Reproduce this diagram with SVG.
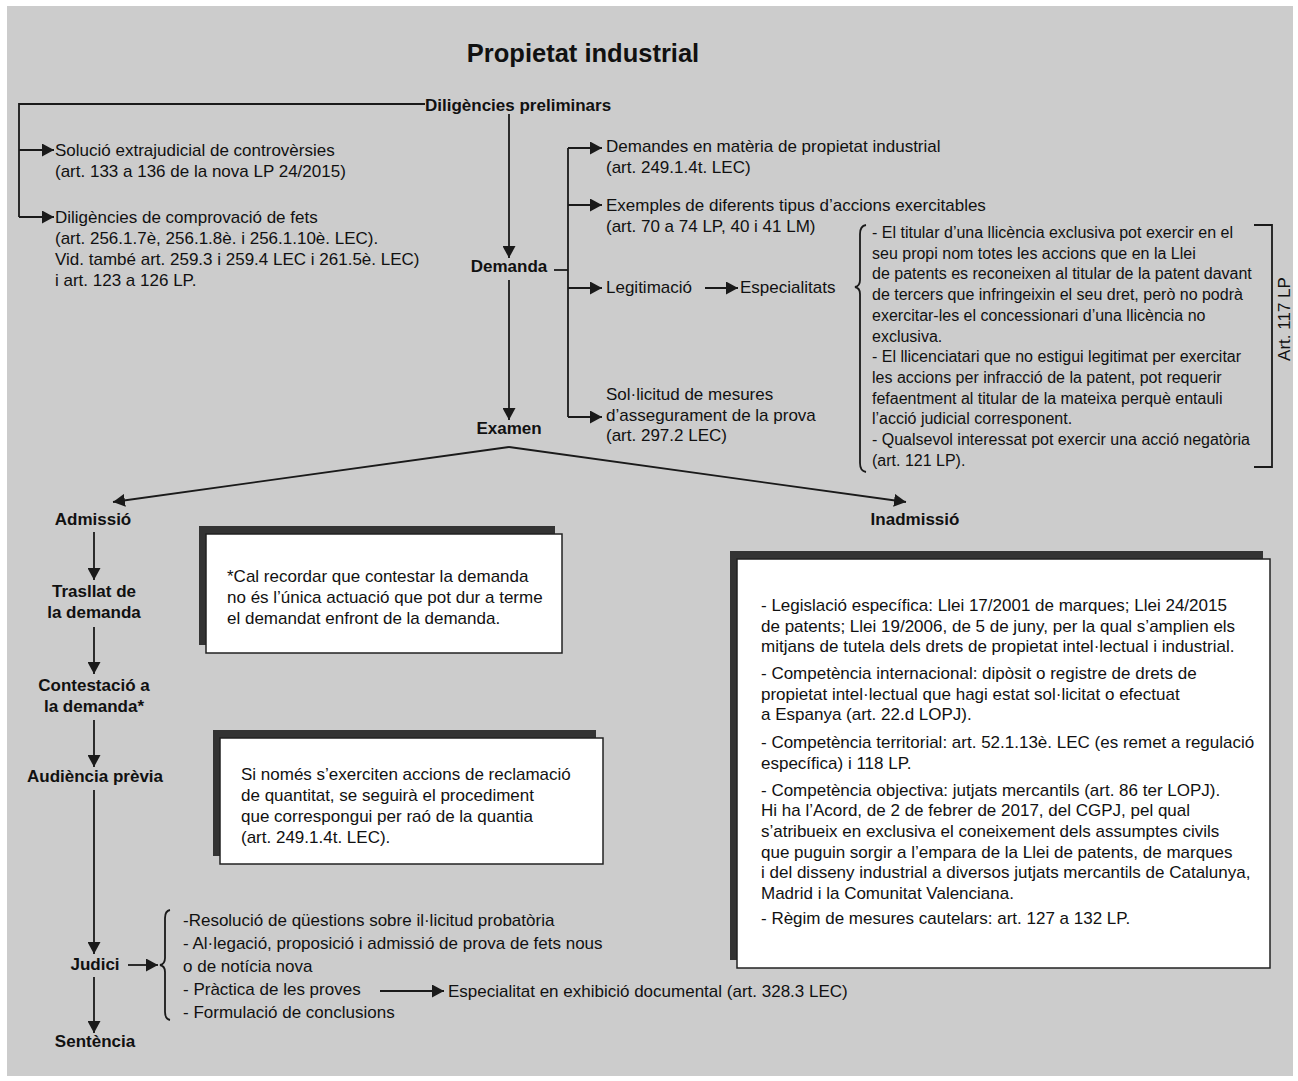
<svg xmlns="http://www.w3.org/2000/svg" width="1298" height="1081" viewBox="0 0 1298 1081">
<defs>
<marker id="ah" viewBox="0 0 12 13" refX="12" refY="6.5" markerWidth="12" markerHeight="13" markerUnits="userSpaceOnUse" orient="auto">
<path d="M0,0 L12,6.5 L0,13 z" fill="#1a1a1a"/>
</marker>
<style>
text{font-family:"Liberation Sans",Arial,sans-serif;font-size:17px;fill:#111}
.b{font-weight:bold}
.c{text-anchor:middle}
.s{font-size:16px}
.t{font-size:25.5px;font-weight:bold}
.ln{fill:none;stroke:#1a1a1a;stroke-width:1.8}
.ar{fill:none;stroke:#1a1a1a;stroke-width:1.8;marker-end:url(#ah)}
.sh{fill:#333333}
.bx{fill:#ffffff;stroke:#222222;stroke-width:1.5}
</style>
</defs>
<rect x="0" y="0" width="1298" height="1081" fill="#ffffff"/>
<rect x="7" y="6" width="1286" height="1070" fill="#cccccc"/>
<text class="t c" x="583" y="62">Propietat industrial</text>

<g id="connectors">
<path class="ln" d="M425,104 H19 V217"/>
<path class="ar" d="M19,150 H54"/>
<path class="ar" d="M19,217 H54"/>
<path class="ar" d="M509,114 V258"/>
<path class="ar" d="M509,280 V420"/>
<path class="ln" d="M554,270 H568"/>
<path class="ln" d="M568,148 V417"/>
<path class="ar" d="M568,148 H602"/>
<path class="ar" d="M568,205 H602"/>
<path class="ar" d="M568,288 H602"/>
<path class="ar" d="M568,417 H602"/>
<path class="ar" d="M705,288 H738"/>
<path class="ln" d="M866,225 Q860,226 860,234 V280 Q860,286 855,287 Q860,288 860,294 V463 Q860,471 866,472"/>
<path class="ln" d="M1254,225 H1272 V467 H1254"/>
<path class="ar" d="M509,447 L113,502"/>
<path class="ar" d="M509,447 L906,502"/>
<path class="ar" d="M94,532 V580"/>
<path class="ar" d="M94,627 V674"/>
<path class="ar" d="M94,720 V767"/>
<path class="ar" d="M94,790 V954"/>
<path class="ar" d="M94,977 V1033"/>
<path class="ar" d="M128,965 H158"/>
<path class="ln" d="M170,910 Q165,911 165,918 V958 Q165,964 160,965 Q165,966 165,972 V1012 Q165,1019 170,1020"/>
<path class="ar" d="M380,991 H444"/>
</g>

<g id="n-dilig"><text class="b" x="425" y="111">Diligències preliminars</text></g>
<g id="n-solucio">
<text x="55" y="156">Solució extrajudicial de controvèrsies</text>
<text x="55" y="177">(art. 133 a 136 de la nova LP 24/2015)</text>
</g>
<g id="n-comprov">
<text x="55" y="223">Diligències de comprovació de fets</text>
<text x="55" y="244">(art. 256.1.7è, 256.1.8è. i 256.1.10è. LEC).</text>
<text x="55" y="265">Vid. també art. 259.3 i 259.4 LEC i 261.5è. LEC)</text>
<text x="55" y="286">i art. 123 a 126 LP.</text>
</g>
<g id="n-demanda"><text class="b c" x="509" y="272">Demanda</text></g>
<g id="n-examen"><text class="b c" x="509" y="434">Examen</text></g>
<g id="n-demandes">
<text x="606" y="152">Demandes en matèria de propietat industrial</text>
<text x="606" y="173">(art. 249.1.4t. LEC)</text>
</g>
<g id="n-exemples">
<text x="606" y="211">Exemples de diferents tipus d’accions exercitables</text>
<text x="606" y="232">(art. 70 a 74 LP, 40 i 41 LM)</text>
</g>
<g id="n-legit"><text x="606" y="293">Legitimació</text></g>
<g id="n-especialitats"><text x="740" y="293">Especialitats</text></g>
<g id="n-sollicitud">
<text x="606" y="400">Sol·licitud de mesures</text>
<text x="606" y="421">d’assegurament de la prova</text>
<text x="606" y="441">(art. 297.2 LEC)</text>
</g>
<g id="n-espec-text">
<text class="s" x="872" y="238">- El titular d’una llicència exclusiva pot exercir en el</text>
<text class="s" x="872" y="258.7">seu propi nom totes les accions que en la Llei</text>
<text class="s" x="872" y="279.4">de patents es reconeixen al titular de la patent davant</text>
<text class="s" x="872" y="300.1">de tercers que infringeixin el seu dret, però no podrà</text>
<text class="s" x="872" y="320.8">exercitar-les el concessionari d’una llicència no</text>
<text class="s" x="872" y="341.5">exclusiva.</text>
<text class="s" x="872" y="362.2">- El llicenciatari que no estigui legitimat per exercitar</text>
<text class="s" x="872" y="382.9">les accions per infracció de la patent, pot requerir</text>
<text class="s" x="872" y="403.6">fefaentment al titular de la mateixa perquè entauli</text>
<text class="s" x="872" y="424.3">l’acció judicial corresponent.</text>
<text class="s" x="872" y="445">- Qualsevol interessat pot exercir una acció negatòria</text>
<text class="s" x="872" y="465.7">(art. 121 LP).</text>
</g>
<g id="n-art117"><text class="c" transform="translate(1290,319) rotate(-90)">Art. 117 LP</text></g>
<g id="n-admissio"><text class="b c" x="93" y="525">Admissió</text></g>
<g id="n-inadmissio"><text class="b c" x="915" y="525">Inadmissió</text></g>
<g id="n-trasllat">
<text class="b c" x="94" y="597">Trasllat de</text>
<text class="b c" x="94" y="618">la demanda</text>
</g>
<g id="n-contestacio">
<text class="b c" x="94" y="691">Contestació a</text>
<text class="b c" x="94" y="712">la demanda*</text>
</g>
<g id="n-audiencia"><text class="b c" x="95" y="782">Audiència prèvia</text></g>
<g id="n-judici"><text class="b c" x="95" y="970">Judici</text></g>
<g id="n-sentencia"><text class="b c" x="95" y="1047">Sentència</text></g>
<g id="n-judici-list">
<text x="183" y="926">-Resolució de qüestions sobre il·licitud probatòria</text>
<text x="183" y="949">- Al·legació, proposició i admissió de prova de fets nous</text>
<text x="183" y="972">o de notícia nova</text>
<text x="183" y="995">- Pràctica de les proves</text>
<text x="183" y="1018">- Formulació de conclusions</text>
</g>
<g id="n-exhibicio"><text x="448" y="997">Especialitat en exhibició documental (art. 328.3 LEC)</text></g>

<g id="note1">
<rect class="sh" x="199" y="526" width="356" height="119"/>
<rect class="bx" x="206" y="534" width="356" height="119"/>
<text x="227" y="582">*Cal recordar que contestar la demanda</text>
<text x="227" y="603">no és l’única actuació que pot dur a terme</text>
<text x="227" y="624">el demandat enfront de la demanda.</text>
</g>
<g id="note2">
<rect class="sh" x="213" y="730" width="383" height="126"/>
<rect class="bx" x="220" y="738" width="383" height="126"/>
<text x="241" y="780">Si només s’exerciten accions de reclamació</text>
<text x="241" y="801">de quantitat, se seguirà el procediment</text>
<text x="241" y="822">que correspongui per raó de la quantia</text>
<text x="241" y="843">(art. 249.1.4t. LEC).</text>
</g>
<g id="note3">
<rect class="sh" x="730" y="551" width="533" height="409"/>
<rect class="bx" x="737" y="559" width="533" height="409"/>
<text x="761" y="611">- Legislació específica: Llei 17/2001 de marques; Llei 24/2015</text>
<text x="761" y="632">de patents; Llei 19/2006, de 5 de juny, per la qual s’amplien els</text>
<text x="761" y="652">mitjans de tutela dels drets de propietat intel·lectual i industrial.</text>
<text x="761" y="679">- Competència internacional: dipòsit o registre de drets de</text>
<text x="761" y="700">propietat intel·lectual que hagi estat sol·licitat o efectuat</text>
<text x="761" y="720">a Espanya (art. 22.d LOPJ).</text>
<text x="761" y="748">- Competència territorial: art. 52.1.13è. LEC (es remet a regulació</text>
<text x="761" y="769">específica) i 118 LP.</text>
<text x="761" y="796">- Competència objectiva: jutjats mercantils (art. 86 ter LOPJ).</text>
<text x="761" y="816">Hi ha l’Acord, de 2 de febrer de 2017, del CGPJ, pel qual</text>
<text x="761" y="837">s’atribueix en exclusiva el coneixement dels assumptes civils</text>
<text x="761" y="858">que puguin sorgir a l’empara de la Llei de patents, de marques</text>
<text x="761" y="878">i del disseny industrial a diversos jutjats mercantils de Catalunya,</text>
<text x="761" y="899">Madrid i la Comunitat Valenciana.</text>
<text x="761" y="924">- Règim de mesures cautelars: art. 127 a 132 LP.</text>
</g>
</svg>
